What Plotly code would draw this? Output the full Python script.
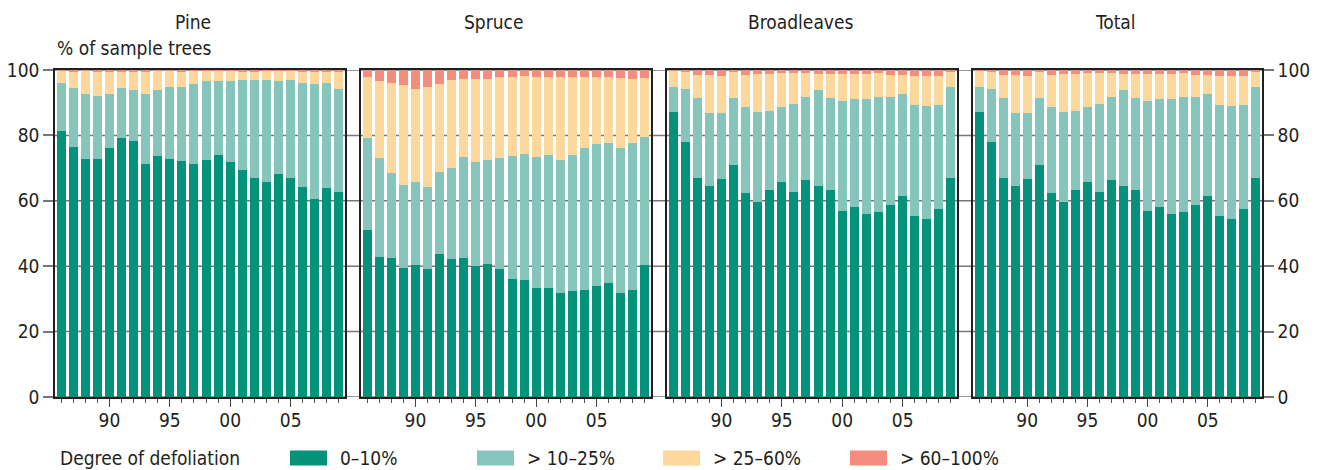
import plotly.graph_objects as go

years = list(range(1986, 2010))
tick_years = [1990, 1995, 2000, 2005]
tick_labels = ["90", "95", "00", "05"]
y_ticks = [0, 20, 40, 60, 80, 100]

panels = ["Pine", "Spruce", "Broadleaves", "Total"]
classes = ["0–10%", "> 10–25%", "> 25–60%", "> 60–100%"]
colors = ["#05927a", "#85c5bc", "#fdd89c", "#f48d7e"]

pine_0_10 = [81.5, 76.6, 72.9, 72.9, 76.0, 79.3, 78.4, 71.4, 73.8, 72.9, 72.3, 71.4,
             72.6, 74.1, 72.0, 69.5, 67.1, 65.9, 68.3, 67.1, 64.3, 60.4, 64.0, 62.8]
pine_10_25 = [14.4, 18.0, 19.9, 19.3, 16.8, 15.3, 15.6, 21.4, 20.2, 22.0, 22.6, 24.2,
              23.9, 22.4, 24.5, 27.3, 29.7, 30.9, 28.2, 29.7, 31.6, 35.2, 31.9, 31.5]
pine_25_60 = [4.0, 5.0, 7.1, 7.4, 6.8, 5.0, 5.5, 6.7, 5.9, 5.0, 4.7, 4.3,
              3.4, 3.4, 3.4, 2.8, 2.8, 3.1, 3.4, 3.1, 3.6, 4.0, 3.7, 5.3]
pine_60_100 = [0.1, 0.4, 0.1, 0.4, 0.4, 0.4, 0.5, 0.5, 0.1, 0.1, 0.4, 0.1,
               0.1, 0.1, 0.1, 0.4, 0.4, 0.1, 0.1, 0.1, 0.5, 0.4, 0.4, 0.4]

spruce_0_10 = [51.2, 42.9, 42.6, 39.5, 40.5, 39.0, 43.6, 42.1, 42.6, 40.2, 40.8, 39.0,
               36.2, 35.9, 33.4, 33.4, 31.9, 32.5, 32.8, 34.0, 34.9, 31.9, 32.8, 40.5]
spruce_10_25 = [28.1, 30.3, 26.0, 25.4, 25.1, 25.3, 25.3, 27.8, 30.9, 31.8, 31.8, 34.2,
                37.6, 38.5, 40.1, 40.7, 40.7, 41.6, 43.5, 43.5, 42.9, 44.4, 45.0, 39.1]
spruce_25_60 = [18.7, 23.3, 27.3, 30.4, 28.7, 30.6, 26.7, 26.9, 23.9, 25.1, 24.8, 24.8,
                24.2, 23.9, 24.5, 23.9, 25.4, 23.9, 21.7, 20.5, 20.2, 21.4, 19.6, 18.1]
spruce_60_100 = [2.0, 3.5, 4.1, 4.7, 5.7, 5.1, 4.4, 3.2, 2.6, 2.9, 2.6, 2.0,
                 2.0, 1.7, 2.0, 2.0, 2.0, 2.0, 2.0, 2.0, 2.0, 2.3, 2.6, 2.3]

broad_0_10 = [87.3, 78.1, 67.1, 64.6, 66.8, 70.8, 62.5, 59.7, 63.4, 65.9, 62.8, 66.5,
              64.6, 63.4, 57.0, 58.2, 56.1, 56.7, 58.8, 61.6, 55.5, 54.5, 57.6, 67.1]
broad_10_25 = [7.6, 16.2, 24.2, 22.4, 20.2, 20.5, 26.3, 27.6, 24.2, 22.9, 26.9, 25.1,
               29.4, 27.9, 33.4, 32.8, 34.9, 34.9, 32.8, 31.2, 33.9, 34.6, 31.8, 27.8]
broad_25_60 = [4.9, 5.2, 7.3, 11.6, 11.3, 8.2, 9.8, 11.6, 11.3, 10.4, 9.5, 7.6,
               4.9, 7.6, 8.5, 7.9, 7.9, 7.6, 7.0, 5.8, 8.9, 9.2, 8.9, 4.6]
broad_60_100 = [0.2, 0.5, 1.4, 1.4, 1.7, 0.5, 1.4, 1.1, 1.1, 0.8, 0.8, 0.8,
                1.1, 1.1, 1.1, 1.1, 1.1, 0.8, 1.4, 1.4, 1.7, 1.7, 1.7, 0.5]

total_0_10 = [87.3, 78.1, 67.1, 64.6, 66.8, 70.8, 62.5, 59.7, 63.4, 65.9, 62.8, 66.5,
              64.6, 63.4, 57.0, 58.2, 56.1, 56.7, 58.8, 61.6, 55.5, 54.5, 57.6, 67.1]
total_10_25 = [7.6, 16.2, 24.2, 22.4, 20.2, 20.5, 26.3, 27.6, 24.2, 22.9, 26.9, 25.1,
               29.4, 27.9, 33.4, 32.8, 34.9, 34.9, 32.8, 31.2, 33.9, 34.6, 31.8, 27.8]
total_25_60 = [4.9, 5.2, 7.3, 11.6, 11.3, 8.2, 9.8, 11.6, 11.3, 10.4, 9.5, 7.6,
               4.9, 7.6, 8.5, 7.9, 7.9, 7.6, 7.0, 5.8, 8.9, 9.2, 8.9, 4.6]
total_60_100 = [0.2, 0.5, 1.4, 1.4, 1.7, 0.5, 1.4, 1.1, 1.1, 0.8, 0.8, 0.8,
                1.1, 1.1, 1.1, 1.1, 1.1, 0.8, 1.4, 1.4, 1.7, 1.7, 1.7, 0.5]

data = {
    "Pine": [pine_0_10, pine_10_25, pine_25_60, pine_60_100],
    "Spruce": [spruce_0_10, spruce_10_25, spruce_25_60, spruce_60_100],
    "Broadleaves": [broad_0_10, broad_10_25, broad_25_60, broad_60_100],
    "Total": [total_0_10, total_10_25, total_25_60, total_60_100],
}

FONT = "DejaVu Sans Condensed, Liberation Sans, sans-serif"
TXT = "#231f20"
FS = 19
W, H = 1317, 470
ML, MR, MT, MB = 55, 55, 70, 73
PW = W - ML - MR
PH = H - MT - MB

panel_w = 290
gap = 16
domains = []
for i in range(4):
    x0 = i * (panel_w + gap)
    x1 = x0 + panel_w
    domains.append([x0 / PW, min(x1 / PW, 1.0)])

fig = go.Figure()
for i, p in enumerate(panels):
    xa = "x" if i == 0 else f"x{i+1}"
    ya = "y" if i == 0 else f"y{i+1}"
    for k, cls in enumerate(classes):
        fig.add_trace(go.Bar(
            x=years, y=data[p][k], name=cls, marker_color=colors[k],
            marker_line_width=0, xaxis=xa, yaxis=ya, showlegend=False,
            hovertemplate="%{x}: %{y}%<extra>" + cls + "</extra>",
        ))

layout = dict(
    width=W, height=H,
    margin=dict(l=ML, r=MR, t=MT, b=MB, autoexpand=False),
    barmode="stack", bargap=0.25,
    plot_bgcolor="white", paper_bgcolor="white",
    font=dict(family=FONT, size=FS, color=TXT),
    showlegend=False,
)
for i in range(4):
    xk = "xaxis" if i == 0 else f"xaxis{i+1}"
    yk = "yaxis" if i == 0 else f"yaxis{i+1}"
    ya = "y" if i == 0 else f"y{i+1}"
    xa = "x" if i == 0 else f"x{i+1}"
    layout[xk] = dict(
        domain=domains[i], anchor=ya, range=[1985.5, 2009.5],
        tickmode="array", tickvals=tick_years, ticktext=tick_labels,
        ticks="outside", ticklen=8, tickwidth=1.2, tickcolor="#444",
        ticklabelstandoff=-3,
        showline=True, mirror=True, linecolor=TXT, linewidth=1.6,
        showgrid=False, zeroline=False, automargin=False,
        minor=dict(tickmode="array", tickvals=years, ticks="outside",
                   ticklen=4, tickwidth=1, tickcolor="#555", showgrid=False),
        tickfont=dict(size=FS, family=FONT, color=TXT),
        fixedrange=True,
    )
    yax = dict(
        domain=[0, 1], anchor=xa, range=[0, 100],
        tickmode="array", tickvals=y_ticks,
        showline=True, mirror=True, linecolor=TXT, linewidth=1.6,
        showgrid=False, zeroline=False, fixedrange=True, automargin=False,
        tickfont=dict(size=FS, family=FONT, color=TXT),
    )
    if i == 0:
        yax.update(ticks="outside", ticklen=10, tickwidth=1.5, tickcolor="#777",
                   showticklabels=True, side="left")
    elif i == 3:
        yax.update(ticks="outside", ticklen=10, tickwidth=1.5, tickcolor="#777",
                   showticklabels=True, side="right")
    else:
        yax.update(ticks="", showticklabels=False)
    layout[yk] = yax

fig.update_layout(**layout)

for v in y_ticks:
    fig.add_shape(type="line", xref="paper", yref="y", x0=0, x1=1, y0=v, y1=v,
                  line=dict(color="#777", width=1.5), layer="below")

title_x = [193, 494, 800, 1115]
for t, xp in zip(panels, title_x):
    fig.add_annotation(text=t, xref="paper", yref="paper",
                       x=(xp - ML) / PW, y=1 + (MT - 22) / PH,
                       xanchor="center", yanchor="middle", showarrow=False,
                       font=dict(size=FS, family=FONT, color=TXT))
fig.add_annotation(text="% of sample trees", xref="paper", yref="paper",
                   x=0, y=1 + (MT - 48) / PH, xanchor="left", yanchor="middle",
                   showarrow=False, font=dict(size=FS, family=FONT, color=TXT))

leg_y = 458
fig.add_annotation(text="Degree of defoliation", xref="paper", yref="paper",
                   x=(58 - ML) / PW, y=-(leg_y - (H - MB)) / PH,
                   xanchor="left", yanchor="middle", showarrow=False,
                   font=dict(size=FS, family=FONT, color=TXT))
sq_x = [290, 477, 663, 850]
for k, cls in enumerate(classes):
    x0 = sq_x[k]
    fig.add_shape(type="rect", xref="paper", yref="paper",
                  x0=(x0 - ML) / PW, x1=(x0 + 37 - ML) / PW,
                  y0=-(leg_y + 7.5 - (H - MB)) / PH, y1=-(leg_y - 7.5 - (H - MB)) / PH,
                  fillcolor=colors[k], line=dict(width=0))
    fig.add_annotation(text=cls, xref="paper", yref="paper",
                       x=(x0 + 48 - ML) / PW, y=-(leg_y - (H - MB)) / PH,
                       xanchor="left", yanchor="middle", showarrow=False,
                       font=dict(size=FS, family=FONT, color=TXT))

fig.write_html("out.html", config={"displayModeBar": False},
               post_script="document.body.style.margin='0';")
